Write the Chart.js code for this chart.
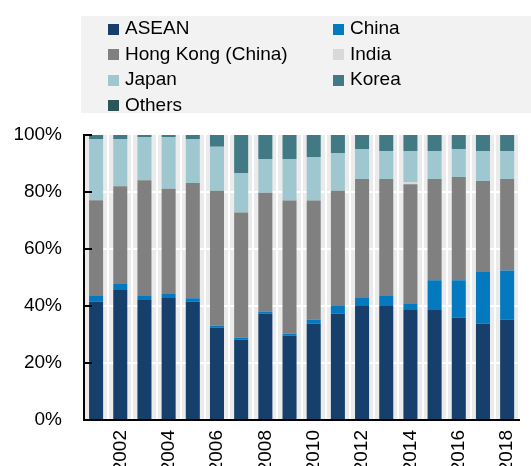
<!DOCTYPE html>
<html><head><meta charset="utf-8">
<script src="https://cdn.jsdelivr.net/npm/chart.js@4/dist/chart.umd.min.js"></script>
<style>
html,body{margin:0;padding:0;background:#fff;overflow:hidden;width:531px;height:466px;}
#wrap{position:absolute;left:0;top:0;width:540px;height:480px;}
#legend{position:absolute;left:81px;top:16px;width:460px;height:97px;background:#f2f2f2;}
.item{position:absolute;display:flex;align-items:center;height:25.5px;font:19px "Liberation Sans",Arial,sans-serif;color:#000;white-space:nowrap;}
.sw{width:11px;height:11px;margin-right:6px;margin-top:2px;flex:none;}
</style></head><body>
<div id="wrap"><canvas id="c" width="540" height="480"></canvas></div>
<div id="legend"></div>
<script>
const years = ['2001','2002','2003','2004','2005','2006','2007','2008','2009','2010','2011','2012','2013','2014','2015','2016','2017','2018'];
const asean = [41.6,45.6,42.1,42.8,41.6,32.5,28.2,37.4,29.6,33.8,37.3,40.0,40.0,38.6,38.6,35.9,33.8,35.2];
const china = [1.9,2.1,1.4,1.4,1.1,0.6,0.7,0.7,0.7,1.4,2.7,2.8,3.5,2.1,10.4,13.1,18.1,17.3];
const hongKong = [33.6,34.3,40.6,36.9,40.5,47.3,43.9,41.6,46.7,41.8,40.4,41.8,41.1,42.0,35.6,36.3,32.0,32.1];
const india = [0,0,0,0,0,0,0,0,0,0,0,0,0,0.8,0,0,0,0];
const japan = [21.5,16.6,15.2,18.2,15.4,15.5,13.9,11.9,14.6,15.3,13.3,10.5,9.8,10.9,9.8,9.8,10.5,9.8];
const korea = [1.4,1.4,0.7,0.7,1.4,4.1,13.3,8.4,8.4,7.7,6.3,4.9,5.6,5.6,5.6,4.9,5.6,5.6];
const others = [0,0,0,0,0,0,0,0,0,0,0,0,0,0,0,0,0,0];
const yTicks = [0,20,40,60,80,100];

const series = [
  {label:'ASEAN', data:asean, color:'#163f6b'},
  {label:'China', data:china, color:'#0479c0'},
  {label:'Hong Kong (China)', data:hongKong, color:'#808080'},
  {label:'India', data:india, color:'#d9d9d9'},
  {label:'Japan', data:japan, color:'#9fc7cf'},
  {label:'Korea', data:korea, color:'#417a84'},
  {label:'Others', data:others, color:'#2c5558'}
];

// HTML legend (two columns)
const lg = document.getElementById('legend');
series.forEach((s,i)=>{
  const r = Math.floor(i/2), c = i%2;
  const d = document.createElement('div');
  d.className='item';
  d.style.left = (c===0?27:252)+'px';
  d.style.top = (-0.5 + r*25.5)+'px';
  const sw = document.createElement('span'); sw.className='sw'; sw.style.background=s.color;
  const t = document.createElement('span'); t.textContent = s.label;
  d.appendChild(sw); d.appendChild(t); lg.appendChild(d);
});

Chart.defaults.font.family = '"Liberation Sans", Arial, sans-serif';
Chart.defaults.font.size = 19;
Chart.defaults.color = '#000';

const plotBg = {
  id:'plotBg',
  beforeDraw(chart){
    const {ctx, chartArea:a} = chart;
    ctx.save(); ctx.fillStyle='#ebebeb';
    ctx.fillRect(a.left,a.top,a.right-a.left,a.bottom-a.top);
    ctx.restore();
  }
};
const innerTicks = {
  id:'innerTicks',
  afterDatasetsDraw(chart){
    const {ctx, chartArea:a} = chart; const y = chart.scales.y;
    ctx.save(); ctx.strokeStyle='#000'; ctx.lineWidth=2;
    y.ticks.forEach(t=>{
      const py = Math.round(y.getPixelForValue(t.value));
      ctx.beginPath(); ctx.moveTo(a.left, py); ctx.lineTo(a.left+8, py); ctx.stroke();
    });
    ctx.restore();
  }
};

new Chart(document.getElementById('c'), {
  type:'bar',
  data:{
    labels: years,
    datasets: series.map(s=>({label:s.label, data:s.data, backgroundColor:s.color, borderWidth:0, barPercentage:0.58, categoryPercentage:1}))
  },
  options:{
    responsive:false, animation:false, devicePixelRatio:1,
    layout:{padding:{left:0, right:2, top:135, bottom:0}},
    plugins:{legend:{display:false}, tooltip:{enabled:false}, title:{display:false}},
    scales:{
      x:{
        stacked:true,
        grid:{color:'#fff', lineWidth:2, offset:true, drawTicks:false},
        border:{display:true, color:'#000', width:2},
        ticks:{autoSkip:false, maxRotation:90, minRotation:90, padding:10,
          callback:function(v,i){ const y = years[i]; return (parseInt(y)%2===0)? y : ''; }},
        afterFit(s){ s.height = 60; }
      },
      y:{
        stacked:true, min:0, max:100,
        afterBuildTicks(s){ s.ticks = yTicks.map(v=>({value:v})); },
        grid:{color:(c)=> (c.tick && c.tick.value===100) ? 'rgba(0,0,0,0)' : '#fff', lineWidth:2, drawTicks:false},
        border:{display:true, color:'#000', width:2},
        ticks:{padding:22, callback:(v)=> v+'%'},
        afterFit(s){ s.width = 84; }
      }
    }
  },
  plugins:[plotBg, innerTicks]
});
</script>
</body></html>
